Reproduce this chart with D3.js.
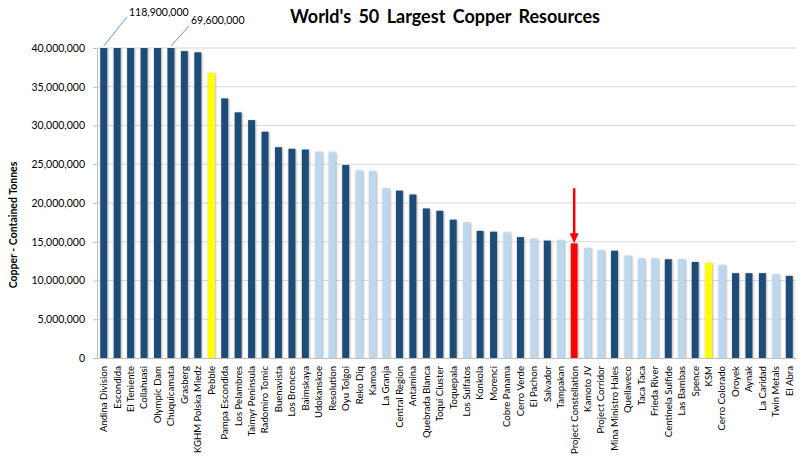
<!DOCTYPE html>
<html>
<head>
<meta charset="utf-8">
<script src="https://cdn.jsdelivr.net/npm/d3@7"></script>
<style>
  body { margin: 0; background: #fff; }
  svg { display: block; font-family: Lato, "Open Sans", sans-serif; }
</style>
</head>
<body>
<svg id="chart" width="800" height="459"></svg>
<script>
const categories = ["Andina Division","Escondida","El Teniente","Collahuasi","Olympic Dam","Chuquicamata","Grasberg","KGHM Polska Miedz","Pebble","Pampa Escondida","Los Pelambres","Taimyr Peninsula","Radomiro Tomic","Buenavista","Los Bronces","Baimskaya","Udokanskoe","Resolution","Oyu Tolgoi","Reko Diq","Kamoa","La Granja","Central Region","Antamina","Quebrada Blanca","Toqui Cluster","Toquepala","Los Sulfatos","Konkola","Morenci","Cobre Panama","Cerro Verde","El Pachon","Salvador","Tampakan","Project Constellation","Kamoto JV","Project Corridor","Mina Ministro Hales","Quellaveco","Taca Taca","Frieda River","Centinela Sulfide","Las Bambas","Spence","KSM","Cerro Colorado","Oroyek","Aynak","La Caridad","Twin Metals","El Abra"];
const values = [118900000,100000000,90000000,80000000,75000000,69600000,39600000,39450000,36800000,33500000,31700000,30700000,29200000,27200000,27000000,26900000,26600000,26600000,24900000,24200000,24100000,21900000,21600000,21100000,19300000,19000000,17850000,17500000,16400000,16300000,16200000,15600000,15400000,15150000,15200000,14800000,14200000,13900000,13850000,13200000,12850000,12850000,12750000,12750000,12400000,12300000,12000000,10950000,10950000,10950000,10800000,10600000];
const types = ["dark","dark","dark","dark","dark","dark","dark","dark","yellow","dark","dark","dark","dark","dark","dark","dark","light","light","dark","light","light","light","dark","dark","dark","dark","dark","light","dark","dark","light","dark","light","dark","light","red","light","light","dark","light","light","light","dark","light","dark","yellow","light","dark","dark","dark","light","dark"];
const yTicks = [0,5000000,10000000,15000000,20000000,25000000,30000000,35000000,40000000];
const calloutLabels = [{name:"Andina Division", text:"118,900,000"},{name:"Chuquicamata", text:"69,600,000"}];
const highlightName = "Project Constellation";
const title = "World's 50 Largest Copper Resources";
const yTitle = "Copper - Contained Tonnes";

const colors = {dark:"#1f4e79", light:"#bdd7ee", yellow:"#ffff00", red:"#ff0000"};
const data = categories.map((c,i)=>({name:c, value:values[i], type:types[i]}));

const svg = d3.select("#chart");
const M = {left:97, right:4, top:48, bottom:101};
const W = 800, H = 459;
const x = d3.scaleBand().domain(categories).range([M.left, W-M.right]).paddingInner(0.48).paddingOuter(0.24);
const y = d3.scaleLinear().domain([0,40000000]).range([H-M.bottom, M.top]);

const defs = svg.append("defs");
const f = defs.append("filter").attr("id","glow").attr("x","-60%").attr("y","-10%").attr("width","220%").attr("height","120%");
f.append("feDropShadow").attr("dx",0.6).attr("dy",0.6).attr("stdDeviation",1.2).attr("flood-color","#8c8c8c").attr("flood-opacity",0.85);
defs.append("clipPath").attr("id","plotclip").append("rect")
  .attr("x",M.left-5).attr("y",M.top).attr("width",W-M.left).attr("height",H-M.bottom-M.top);

// gridlines
svg.append("g").selectAll("line").data(yTicks.filter(t=>t>0)).join("line")
  .attr("x1",M.left).attr("x2",W-M.right)
  .attr("y1",d=>y(d)).attr("y2",d=>y(d))
  .attr("stroke","#d9d9d9").attr("stroke-width",1);

// y axis
const yAxis = svg.append("g").attr("transform",`translate(${M.left},0)`)
  .call(d3.axisLeft(y).tickValues(yTicks).tickFormat(d3.format(",")).tickSize(4).tickPadding(8));
yAxis.select(".domain").attr("stroke","#bfbfbf");
yAxis.selectAll(".tick line").attr("stroke","#bfbfbf");
yAxis.selectAll("text").attr("font-size","10.5px").attr("fill","#000").attr("font-family","Lato, sans-serif");

// bars
svg.append("g").attr("clip-path","url(#plotclip)")
  .selectAll("rect").data(data).join("rect")
  .attr("x",d=>x(d.name)).attr("width",x.bandwidth())
  .attr("y",d=>y(d.value)).attr("height",d=>y(0)-y(d.value))
  .attr("fill",d=>colors[d.type])
  .attr("filter","url(#glow)");

// x axis
const xAxis = svg.append("g").attr("transform",`translate(0,${y(0)})`)
  .call(d3.axisBottom(x).tickSize(0).tickPadding(0));
xAxis.select(".domain").attr("stroke","#bfbfbf");
xAxis.selectAll("text")
  .attr("font-size","9.6px").attr("fill","#000").attr("font-family","Lato, sans-serif")
  .attr("transform","rotate(-90)")
  .attr("text-anchor","end").attr("dy","0.35em").attr("x",-8).attr("y",0);

// callout labels for clipped bars
const calloutPos = [{ty:12, lx2:127, ly2:17},{ty:20, lx2:189, ly2:26}];
calloutLabels.forEach((c,i)=>{
  const cx = x(c.name)+x.bandwidth()/2;
  svg.append("line").attr("x1",cx).attr("y1",y(40000000)-2).attr("x2",calloutPos[i].lx2).attr("y2",calloutPos[i].ly2)
    .attr("stroke","#5b9bd5").attr("stroke-width",1);
  svg.append("text").attr("x",calloutPos[i].lx2+2).attr("y",calloutPos[i].ty)
    .attr("dy","0.35em").attr("font-size","10.5px").attr("fill","#000").text(c.text);
});

// red arrow on highlight
const hx = x(highlightName)+x.bandwidth()/2;
const hv = values[categories.indexOf(highlightName)];
const tip = y(hv);
svg.append("line").attr("x1",hx).attr("x2",hx).attr("y1",tip-55).attr("y2",tip-8)
  .attr("stroke","#ff0000").attr("stroke-width",2.5);
svg.append("path").attr("d",`M${hx-4.5},${tip-10} L${hx+4.5},${tip-10} L${hx},${tip} Z`).attr("fill","#ff0000");

// title
svg.append("text").attr("x",445).attr("y",17).attr("dy","0.35em").attr("text-anchor","middle")
  .attr("font-size","18px").attr("font-weight","bold").attr("word-spacing","3px").text(title);

// y title
svg.append("text").attr("transform",`translate(13,${(M.top+H-M.bottom)/2+22}) rotate(-90)`)
  .attr("text-anchor","middle").attr("dy","0.35em")
  .attr("font-size","10.5px").attr("font-weight","bold").text(yTitle);
</script>
</body>
</html>
